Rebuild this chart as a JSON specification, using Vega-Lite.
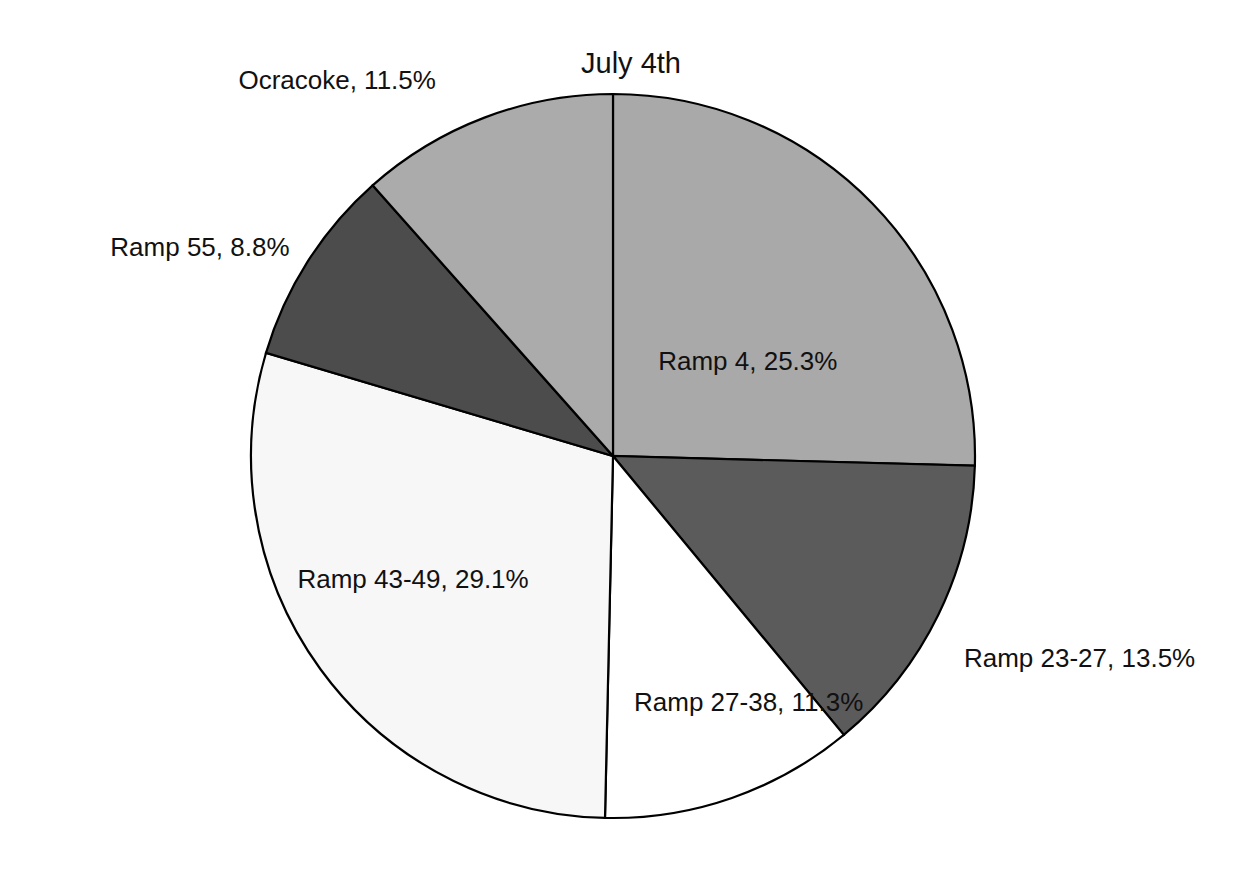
{
  "$schema": "https://vega.github.io/schema/vega-lite/v6.json",
  "autosize": "none",
  "width": 1226,
  "height": 840,
  "padding": {"left": 0, "top": 36, "right": 30, "bottom": 0},
  "background": "white",
  "config": {"view": {"stroke": null}, "font": "Liberation Sans"},
  "data": {"values": [
    {"rank": 1, "site": "Ramp 4", "pct": 25.3},
    {"rank": 2, "site": "Ramp 23-27", "pct": 13.5},
    {"rank": 3, "site": "Ramp 27-38", "pct": 11.3},
    {"rank": 4, "site": "Ramp 43-49", "pct": 29.1},
    {"rank": 5, "site": "Ramp 55", "pct": 8.8},
    {"rank": 6, "site": "Ocracoke", "pct": 11.5}
  ]},
  "layer": [
    {
      "mark": {"type": "arc", "outerRadius": 362, "stroke": "#000000", "strokeWidth": 2.2},
      "encoding": {
        "theta": {"field": "pct", "type": "quantitative", "stack": true},
        "order": {"field": "rank", "type": "quantitative"},
        "color": {"field": "site", "type": "nominal", "legend": null,
          "scale": {"domain": ["Ramp 4", "Ramp 23-27", "Ramp 27-38", "Ramp 43-49", "Ramp 55", "Ocracoke"],
                    "range": ["#a9a9a9", "#5b5b5b", "#ffffff", "#f7f7f7", "#4c4c4c", "#ababab"]}}
      }
    },
    {
      "mark": {"type": "text", "radius": 170, "dx": 13, "dy": 25, "fontSize": 26, "font": "Liberation Sans", "color": "#111111", "align": "center", "baseline": "middle"},
      "encoding": {
        "theta": {"field": "pct", "type": "quantitative", "stack": true},
        "order": {"field": "rank", "type": "quantitative"},
        "text": {"condition": {"test": "datum.site === 'Ramp 4'", "value": "Ramp 4, 25.3%"}, "value": ""}}
    },
    {
      "mark": {"type": "text", "radius": 460, "dx": 53, "dy": 2, "fontSize": 26, "font": "Liberation Sans", "color": "#111111", "align": "center", "baseline": "middle"},
      "encoding": {
        "theta": {"field": "pct", "type": "quantitative", "stack": true},
        "order": {"field": "rank", "type": "quantitative"},
        "text": {"condition": {"test": "datum.site === 'Ramp 23-27'", "value": "Ramp 23-27, 13.5%"}, "value": ""}}
    },
    {
      "mark": {"type": "text", "radius": 270, "dx": 47, "dy": -8, "fontSize": 26, "font": "Liberation Sans", "color": "#111111", "align": "center", "baseline": "middle"},
      "encoding": {
        "theta": {"field": "pct", "type": "quantitative", "stack": true},
        "order": {"field": "rank", "type": "quantitative"},
        "text": {"condition": {"test": "datum.site === 'Ramp 27-38'", "value": "Ramp 27-38, 11.3%"}, "value": ""}}
    },
    {
      "mark": {"type": "text", "radius": 240, "dx": -6, "dy": -17, "fontSize": 26, "font": "Liberation Sans", "color": "#111111", "align": "center", "baseline": "middle"},
      "encoding": {
        "theta": {"field": "pct", "type": "quantitative", "stack": true},
        "order": {"field": "rank", "type": "quantitative"},
        "text": {"condition": {"test": "datum.site === 'Ramp 43-49'", "value": "Ramp 43-49, 29.1%"}, "value": ""}}
    },
    {
      "mark": {"type": "text", "radius": 460, "dx": -25, "dy": 39, "fontSize": 26, "font": "Liberation Sans", "color": "#111111", "align": "center", "baseline": "middle"},
      "encoding": {
        "theta": {"field": "pct", "type": "quantitative", "stack": true},
        "order": {"field": "rank", "type": "quantitative"},
        "text": {"condition": {"test": "datum.site === 'Ramp 55'", "value": "Ramp 55, 8.8%"}, "value": ""}}
    },
    {
      "mark": {"type": "text", "radius": 400, "dx": -35, "dy": -1, "fontSize": 26, "font": "Liberation Sans", "color": "#111111", "align": "right", "baseline": "middle"},
      "encoding": {
        "theta": {"field": "pct", "type": "quantitative", "stack": true},
        "order": {"field": "rank", "type": "quantitative"},
        "text": {"condition": {"test": "datum.site === 'Ocracoke'", "value": "Ocracoke, 11.5%"}, "value": ""}}
    },
    {
      "data": {"values": [{"title": "July 4th"}]},
      "mark": {"type": "text", "dx": 18, "dy": -392, "fontSize": 29, "font": "Liberation Sans", "color": "#111111", "align": "center", "baseline": "middle"},
      "encoding": {"text": {"field": "title", "type": "nominal"}}
    }
  ]
}
